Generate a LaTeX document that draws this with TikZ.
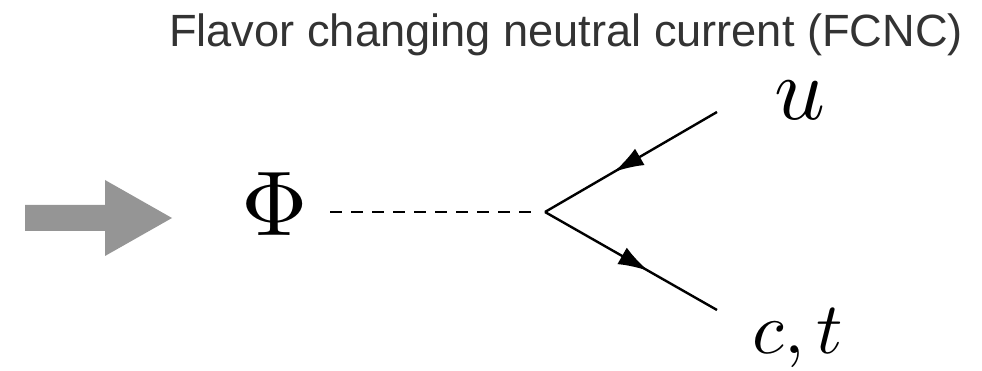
\documentclass[tikz,border=0pt]{standalone}
\usepackage{fontspec}
\newfontfamily\titlefont{Liberation Sans}
\usetikzlibrary{arrows.meta,decorations.markings}
\definecolor{titlegray}{HTML}{333333}
\definecolor{arrowgray}{HTML}{959595}
\tikzset{
  fermion/.style={line width=2.4pt, postaction={decorate},
    decoration={markings, mark=at position #1 with {\arrow{Latex[length=30pt,width=19pt]}}}},
  scalar/.style={line width=2.4pt, dash pattern=on 12pt off 9pt},
  biglabel/.style={inner sep=0pt, font=\fontsize{10}{10}\selectfont},
}
\begin{document}
\begin{tikzpicture}[x=1pt,y=-1pt]
\useasboundingbox (0,0) rectangle (982,371);
% heading
\node[inner sep=0pt, anchor=base west, text=titlegray,
      font=\titlefont\fontsize{45.2}{45.2}\selectfont] (title) at (169,47)
  {Flavor changing neutral current (FCNC)};
% block arrow on the left
\fill[arrowgray] (25,205) -- (105,205) -- (105,180) -- (172,218)
  -- (105,256) -- (105,231) -- (25,231) -- cycle;
% scalar and quark labels
\node[biglabel, scale=9.2, anchor=base] (phi) at (275,236) {$\Phi$};
\node[biglabel, scale=8.9, anchor=base] (u) at (800,120) {$u$};
\node[biglabel, scale=7.3, anchor=base] (ct) at (798,353) {$c,t$};
% vertex and line ends
\coordinate (s0) at (330,212);
\coordinate (v) at (545,212);
\coordinate (qu) at (717,112);
\coordinate (qd) at (717,310);
% scalar propagator and fermion lines
\draw[scalar] (s0) -- (533,212);
\draw[fermion=0.6] (qu) -- (v);
\draw[fermion=0.6] (v) -- (qd);
\end{tikzpicture}
\end{document}
